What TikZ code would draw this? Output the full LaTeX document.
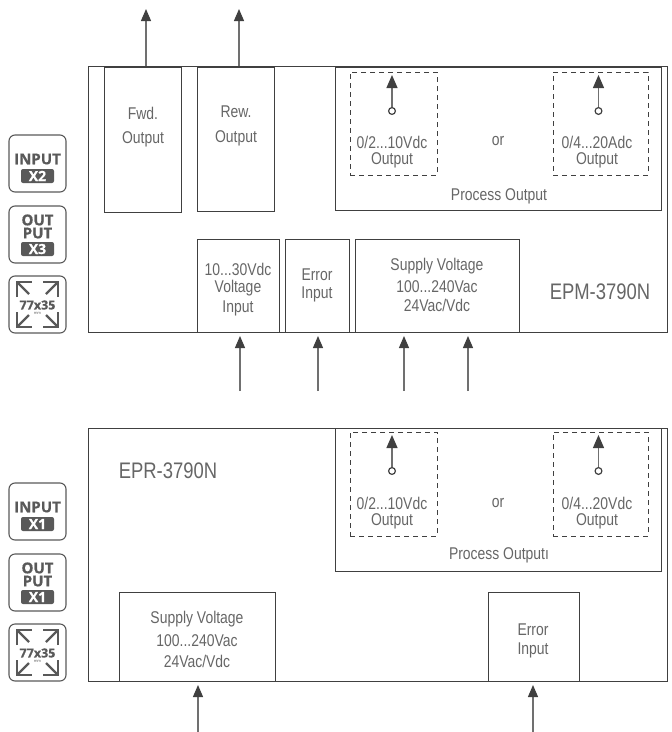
\documentclass[tikz,border=0pt]{standalone}
\usepackage{fontspec}
\usetikzlibrary{arrows.meta}
\setmainfont[FakeStretch=0.82]{Liberation Sans}
\newfontfamily\iconfont[BoldFeatures={FakeBold=0.7}]{Open Sans}
\definecolor{ln}{HTML}{404040}
\definecolor{tx}{HTML}{666666}
\definecolor{ar}{HTML}{707070}
\definecolor{ic}{HTML}{595959}
\tikzset{
  x=1pt,y=-1pt,
  frame/.style={draw=ln,line width=1pt,anchor=north west,inner sep=0pt,outer sep=0pt},
  dbox/.style={draw=ln,line width=1pt,dash pattern=on 5pt off 4pt,anchor=north west,inner sep=0pt,outer sep=0pt},
  lab/.style={text=tx,font=\fontsize{17}{19}\selectfont,inner sep=0pt},
  big/.style={text=tx,font=\fontsize{22.5}{24}\selectfont,inner sep=0pt},
  arr/.style={draw=ar,line width=1.2pt,-{Triangle[length=12pt,width=10pt,color=ln]}},
  iarr/.style={draw=ar,line width=1.2pt,{Circle[open,length=8pt,width=8pt,fill=white,color=ln]}-{Triangle[length=13pt,width=11pt,color=ln]}},
  ibox/.style={draw=ic,line width=1.1pt,rounded corners=6pt},
  itxt/.style={text=ic,font=\iconfont\bfseries\fontsize{15}{13}\selectfont,inner sep=0pt,align=center},
  ibad/.style={fill=ic,rounded corners=2pt},
  ibtx/.style={text=white,font=\iconfont\bfseries\fontsize{14}{14}\selectfont,inner sep=0pt},
  icor/.style={draw=ic,line width=2.4pt,line join=miter},
}
% name, x1, y1, x2, y2
\newcommand{\bx}[6][frame]{\node[#1,minimum width={(#5-#3)*1pt},minimum height={(#6-#4)*1pt}] (#2) at (#3,#4) {};}
\newcommand{\inpicon}[4]{% name, y, first text, badge
  \begin{scope}[yshift=-#2pt]
    \draw[ibox] (9,0) rectangle (66,57);
    \node[itxt] (#1t) at (37.5,24) {#3};
    \fill[ibad] (21,34) rectangle (54,48);
    \node[ibtx] (#1b) at (37.5,41) {#4};
  \end{scope}}
\newcommand{\outicon}[3]{% name, y, badge
  \begin{scope}[yshift=-#2pt]
    \draw[ibox] (9,0) rectangle (66,57);
    \node[itxt] (#1t) at (37.5,20.5) {OUT\\PUT};
    \fill[ibad] (21,36) rectangle (54,50);
    \node[ibtx] (#1b) at (37.5,43) {#3};
  \end{scope}}
\newcommand{\sizeicon}[2]{% name, y
  \begin{scope}[yshift=-#2pt]
    \draw[ibox] (9,0) rectangle (66,57);
    \draw[icor] (17,21) -- (17,6) -- (32,6);
    \draw[icor] (17,6) -- (29,18);
    \draw[icor] (58,21) -- (58,6) -- (43,6);
    \draw[icor] (58,6) -- (46,18);
    \draw[icor] (17,36) -- (17,51) -- (32,51);
    \draw[icor] (17,51) -- (29,39);
    \draw[icor] (58,36) -- (58,51) -- (43,51);
    \draw[icor] (58,51) -- (46,39);
    \node[text=ic,font=\iconfont\bfseries\fontsize{12.5}{12.5}\selectfont,inner sep=0pt] (#1t) at (37.5,29) {77x35};
    \node[text=ic,font=\iconfont\fontsize{4}{4}\selectfont,inner sep=0pt] (#1m) at (37.5,37) {mm};
  \end{scope}}
\begin{document}
\begin{tikzpicture}
\useasboundingbox (0,0) rectangle (672,732);
% ---------- upper unit
\bx{outerA}{88}{66}{667}{332}
\bx{fwd}{104}{67}{181}{212}
\bx{rew}{197}{67}{274}{211}
\bx{procA}{335}{67}{661}{210}
\bx[dbox]{dA}{350}{72}{437}{175}
\bx[dbox]{dB}{553}{72}{648}{175}
\bx{volt}{197}{239}{279}{332}
\bx{errA}{285}{239}{349}{332}
\bx{supA}{355}{239}{519}{332}
\node[lab] (t1) at (143,113) {Fwd.};
\node[lab] (t2) at (143,139) {Output};
\node[lab] (t3) at (236,112) {Rew.};
\node[lab] (t4) at (236,138) {Output};
\node[lab] (t5) at (392,142) {0/2...10Vdc};
\node[lab] (t6) at (392,160) {Output};
\node[lab] (t7) at (498,141) {or};
\node[lab] (t8) at (597,142) {0/4...20Adc};
\node[lab] (t9) at (597,160) {Output};
\node[lab] (t10) at (499,196) {Process Output};
\node[lab] (t11) at (238,269) {10...30Vdc};
\node[lab] (t12) at (238,288) {Voltage};
\node[lab] (t13) at (238,308) {Input};
\node[lab] (t14) at (317,275) {Error};
\node[lab] (t15) at (317,294) {Input};
\node[lab] (t16) at (437,266) {Supply Voltage};
\node[lab] (t17) at (437,287) {100...240Vac};
\node[lab] (t18) at (437,305) {24Vac/Vdc};
\node[big] (t19) at (600,292) {EPM-3790N};
\coordinate (a1) at (146,9);
\coordinate (a2) at (239,9);
\draw[arr] (a1 |- outerA.north) -- (a1);
\draw[arr] (a2 |- outerA.north) -- (a2);
\coordinate (i1s) at (392,115); \coordinate (i1e) at (392,75);
\coordinate (i2s) at (598.5,115); \coordinate (i2e) at (598.5,75);
\draw[iarr] (i1s) -- (i1e);
\draw[iarr] (i2s) -- (i2e);
\foreach \n/\x in {b1/240,b2/318,b3/404,b4/468}{
  \coordinate (\n) at (\x,391);
  \draw[arr,shorten >=4pt] (\n) -- (\n |- outerA.south);
}
% ---------- lower unit
\bx{outerB}{88}{428}{667}{681}
\bx{procB}{335}{428}{661}{571}
\bx[dbox]{dC}{350}{432}{437}{536}
\bx[dbox]{dD}{553}{432}{648}{536}
\bx{supB}{119}{592}{275}{681}
\bx{errB}{488}{592}{579}{681}
\node[big] (u1) at (168,471) {EPR-3790N};
\node[lab] (u2) at (392,503) {0/2...10Vdc};
\node[lab] (u3) at (392,521) {Output};
\node[lab] (u4) at (498,503) {or};
\node[lab] (u5) at (597,503) {0/4...20Vdc};
\node[lab] (u6) at (597,521) {Output};
\node[lab] (u7) at (499,555) {Process Outputı};
\node[lab] (u8) at (197,619) {Supply Voltage};
\node[lab] (u9) at (197,641) {100...240Vac};
\node[lab] (u10) at (197,661) {24Vac/Vdc};
\node[lab] (u11) at (533,630) {Error};
\node[lab] (u12) at (533,650) {Input};
\coordinate (i3s) at (392,475); \coordinate (i3e) at (392,435);
\coordinate (i4s) at (598.5,475); \coordinate (i4e) at (598.5,435);
\draw[iarr] (i3s) -- (i3e);
\draw[iarr] (i4s) -- (i4e);
\foreach \n/\x in {c1/198,c2/533}{
  \coordinate (\n) at (\x,732);
  \draw[arr,shorten >=4pt] (\n) -- (\n |- outerB.south);
}
% ---------- icons
\inpicon{ia}{135}{INPUT}{X2}
\outicon{ib}{206}{X3}
\sizeicon{ic}{276}
\inpicon{id}{483}{INPUT}{X1}
\outicon{ie}{554}{X1}
\sizeicon{if}{624}
\end{tikzpicture}
\end{document}
